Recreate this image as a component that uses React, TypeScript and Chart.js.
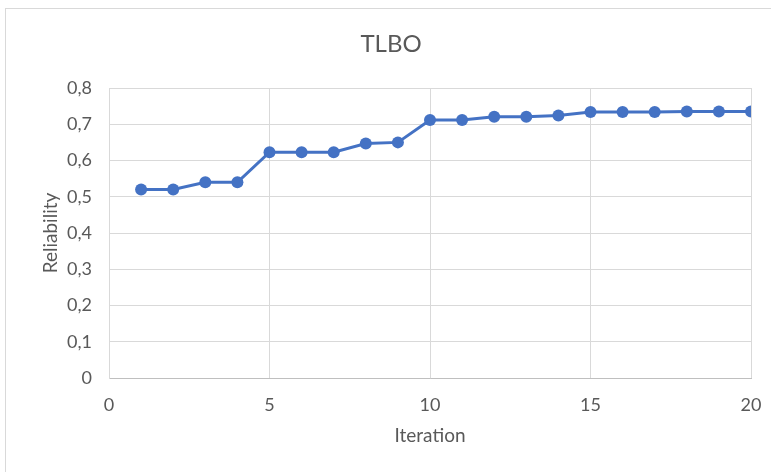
import React, { useEffect, useRef } from "react";
import { Chart, registerables } from "chart.js";

Chart.register(...registerables);

const iterations = [1, 2, 3, 4, 5, 6, 7, 8, 9, 10, 11, 12, 13, 14, 15, 16, 17, 18, 19, 20];
const reliability = [
  0.52, 0.52, 0.54, 0.54, 0.623, 0.623, 0.623, 0.647, 0.65, 0.712,
  0.712, 0.721, 0.721, 0.724, 0.734, 0.734, 0.734, 0.735, 0.735, 0.735,
];
const chartTitle = "TLBO";
const xTitle = "Iteration";
const yTitle = "Reliability";

const FONT = "Lato, 'Open Sans', sans-serif";
const TEXT = "#595959";
const GRID = "#d9d9d9";
const BLUE = "#4472c4";

// White background, thin frame around the whole chart and the centred title
const framePlugin = {
  id: "frame",
  beforeDraw(chart: Chart) {
    const ctx = chart.ctx;
    ctx.save();
    ctx.fillStyle = "#ffffff";
    ctx.fillRect(0, 0, chart.width, chart.height);
    ctx.strokeStyle = GRID;
    ctx.lineWidth = 1;
    ctx.strokeRect(5.5, 8.5, chart.width + 20, chart.height + 20);
    ctx.fillStyle = TEXT;
    ctx.font = `24px ${FONT}`;
    ctx.textAlign = "center";
    ctx.textBaseline = "middle";
    ctx.fillText(chartTitle, 391, 44);
    ctx.restore();
  },
};

const comma = (v: number) => (v === 0 ? "0" : v.toFixed(1).replace(".", ","));

export default function App() {
  const ref = useRef<HTMLCanvasElement | null>(null);

  useEffect(() => {
    if (!ref.current) return;
    const chart = new Chart(ref.current, {
      type: "line",
      data: {
        datasets: [
          {
            label: chartTitle,
            data: iterations.map((x, i) => ({ x, y: reliability[i] })),
            borderColor: BLUE,
            backgroundColor: BLUE,
            borderWidth: 3,
            pointRadius: 6,
            pointBorderWidth: 0,
            pointBackgroundColor: BLUE,
            tension: 0,
          },
        ],
      },
      plugins: [framePlugin],
      options: {
        animation: false,
        responsive: false,
        layout: { padding: { left: 0, right: 20, top: 88, bottom: 0 } },
        plugins: {
          legend: { display: false },
          tooltip: { enabled: false },
          title: { display: false },
        },
        scales: {
          x: {
            type: "linear",
            min: 0,
            max: 20,
            ticks: {
              stepSize: 5,
              color: TEXT,
              padding: 16,
              font: { family: FONT, size: 18 },
            },
            grid: { color: GRID, drawTicks: false },
            border: { color: "#bfbfbf", width: 1 },
            title: {
              display: true,
              text: xTitle,
              color: TEXT,
              font: { family: FONT, size: 19 },
              padding: { top: 0, bottom: 25 },
            },
            afterFit(scale: any) {
              scale.height = 94;
              scale.paddingLeft = 0;
              scale.paddingRight = 0;
            },
          },
          y: {
            min: 0,
            max: 0.8,
            ticks: {
              stepSize: 0.1,
              color: TEXT,
              padding: 17,
              font: { family: FONT, size: 18 },
              callback: (v: any) => comma(Number(v)),
            },
            grid: { color: GRID, drawTicks: false },
            border: { color: GRID, width: 1 },
            title: {
              display: true,
              text: yTitle,
              color: TEXT,
              font: { family: FONT, size: 19 },
              padding: { top: 39, bottom: 0 },
            },
            afterFit(scale: any) {
              scale.width = 109;
              scale.paddingTop = 0;
              scale.paddingBottom = 0;
            },
          },
        },
      },
    } as any);
    return () => chart.destroy();
  }, []);

  return (
    <div style={{ position: "fixed", left: 0, top: 0, width: 771, height: 472 }}>
      <canvas ref={ref} width={771} height={472} style={{ display: "block" }} />
    </div>
  );
}
